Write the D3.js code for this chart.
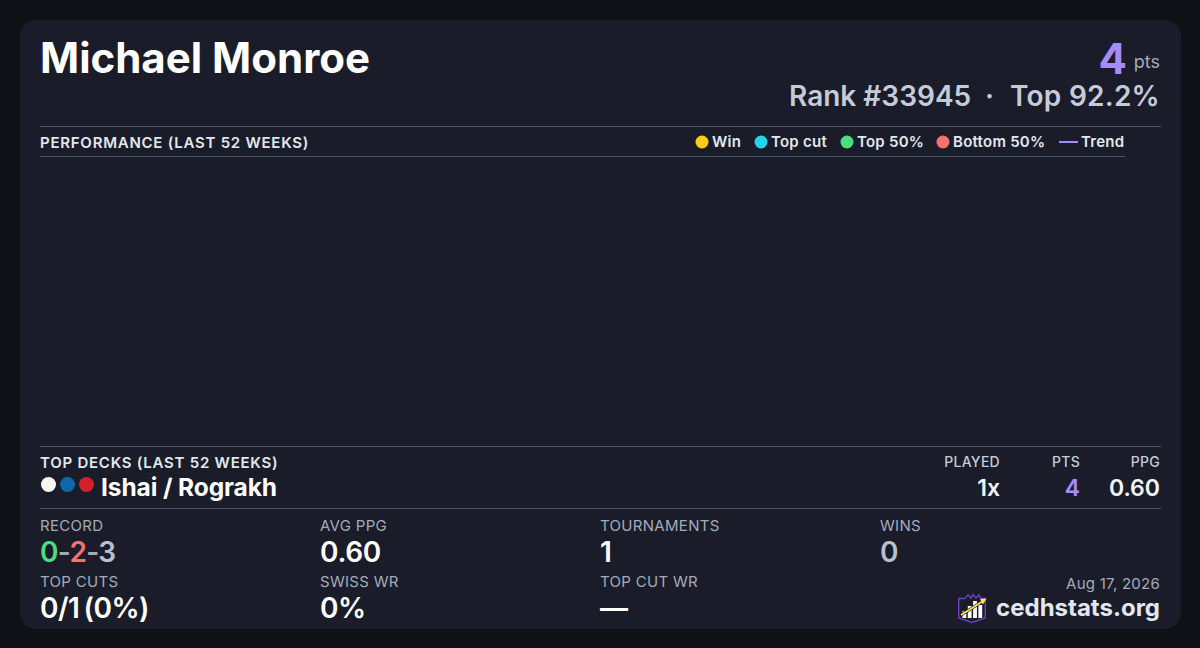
<!DOCTYPE html>
<html><head><meta charset="utf-8">
<script src="https://cdn.jsdelivr.net/npm/d3@7"></script>
<style>html,body{margin:0;padding:0;background:#0f1117;overflow:hidden}svg{display:block}text{font-family:Inter,sans-serif}</style>
</head><body><div id="c"></div>
<script>
const playerName = "Michael Monroe";
const points = "4";
const rankText = "Rank #33945";
const rankDot = "·";
const topText = "Top 92.2%";
const legendLabels = ["Win","Top cut","Top 50%","Bottom 50%"];
const legendColors = ["#facc15","#22d3ee","#4ade80","#f87171"];
const legendX = [702,761,847,943];
const performancePoints = [];
const deckName = "Ishai / Rograkh";
const deckPips = ["#f8f6ee","#0e68ab","#d3202a"];
const deckHeaders = ["PLAYED","PTS","PPG"];
const deckValues = ["1x","4","0.60"];
const deckHeaderX = [1000,1080,1160];
const statRow1 = [["RECORD",null],["AVG PPG","0.60"],["TOURNAMENTS","1"],["WINS","0"]];
const statRow2 = [["TOP CUTS","0/1 (0%)"],["SWISS WR","0%"],["TOP CUT WR","—"]];
const statX = [40,320,600,880];
const recordParts = [["0","#4ade80"],["-","#a3abbb"],["2","#f87171"],["-","#a3abbb"],["3","#b8c0ce"]];
const logoBars = [7,12,17,13];

const W=1200,H=648;
const svg=d3.select("#c").append("svg").attr("width",W).attr("height",H);
svg.append("rect").attr("width",W).attr("height",H).attr("fill","#0f1117");
svg.append("rect").attr("x",20).attr("y",20).attr("width",1161).attr("height",609).attr("rx",16).attr("fill","#1a1d29");
const T=(x,y,s,size,weight,fill,anchor,ls)=>svg.append("text").attr("x",x).attr("y",y).text(s)
  .attr("font-size",size).attr("font-weight",weight).attr("fill",fill).attr("text-anchor",anchor||"start")
  .attr("letter-spacing",ls||0);
const L=(x1,x2,y)=>svg.append("line").attr("x1",x1).attr("x2",x2).attr("y1",y).attr("y2",y).attr("stroke","#475569").attr("stroke-width",1);

T(40,73,playerName,42,700,"#ffffff");
T(1127,74,points,42,700,"#a78bfa","end");
T(1160,68,"pts",18,400,"#a3abbb","end");
T(789,106,rankText,28,600,"#c5cbd9");
T(989.5,106,rankDot,28,600,"#c5cbd9","middle");
T(1160,106,topText,28,600,"#c5cbd9","end",0.25);

L(40,1161,126.5); L(40,1125,156.5);
T(40,147.5,"PERFORMANCE (LAST 52 WEEKS)",15,600,"#e2e8f0","start",0.75);
legendLabels.forEach((d,i)=>{
  svg.append("circle").attr("cx",legendX[i]).attr("cy",142).attr("r",6.5).attr("fill",legendColors[i]);
  T(legendX[i]+10,147,d,15,600,"#e2e8f0","start",0.25);
});
svg.append("line").attr("x1",1059).attr("x2",1078).attr("y1",142).attr("y2",142).attr("stroke","#a78bfa").attr("stroke-width",2);
T(1081,147,"Trend",15,600,"#e2e8f0","start",0.25);

const xScale=d3.scaleLinear().domain([0,51]).range([40,1125]);
const yScale=d3.scaleLinear().domain([0,1]).range([440,160]);
svg.append("g").selectAll("circle").data(performancePoints).join("circle")
  .attr("cx",d=>xScale(d.w)).attr("cy",d=>yScale(d.v)).attr("r",5);

L(40,1161,446.5); L(40,1161,508.5);
T(40,467.5,"TOP DECKS (LAST 52 WEEKS)",15,600,"#e2e8f0","start",0.75);
deckPips.forEach((c,i)=>svg.append("circle").attr("cx",48.5+i*19).attr("cy",484.5).attr("r",7.5).attr("fill",c));
T(101,496,deckName,24.5,700,"#ffffff","start",-0.1);
deckHeaders.forEach((d,i)=>{
  T(deckHeaderX[i],467,d,14,500,"#c5cbd9","end",0.28);
  T(deckHeaderX[i],496,deckValues[i],23,600,i==1?"#a78bfa":"#f1f5f9","end");
});

statRow1.forEach((d,i)=>{
  T(statX[i],531,d[0],15,400,"#a3abbb","start",0.3);
  if(d[1]) T(statX[i],562,d[1],28,600,i==3?"#b8c0ce":"#ffffff","start",-0.3);
});
const rec=T(40,562,"",28,600,"#fff","start",-0.7);
rec.selectAll("tspan").data(recordParts).join("tspan").text(d=>d[0]).attr("fill",d=>d[1]);
statRow2.forEach((d,i)=>{
  T(statX[i],587,d[0],15,400,"#a3abbb","start",0.3);
  T(statX[i],618,d[1],28,600,"#ffffff","start",-0.5).attr("word-spacing",-2.5);
});
T(1160,589,"Aug 17, 2026",15,400,"#a3abbb","end",0.25);
T(1160,616,"cedhstats.org",24,700,"#e2e8f0","end");

// logo
const g=svg.append("g").attr("transform","translate(958,594)");
g.append("path").attr("d","M0.7 4.5 L7 4.5 L10 1 L13 4 L15 0.5 L18 4 L21 1 L23 4.5 L27.3 4.5 L27.3 24 L14 28.5 L0.7 24 Z")
  .attr("fill","#1a1d29").attr("stroke","#6d3fc4").attr("stroke-width",1.4);
logoBars.forEach((h,i)=>g.append("rect").attr("x",4.5+i*5.3).attr("y",24-h).attr("width",3.8).attr("height",h).attr("fill","#ffffff"));
g.append("line").attr("x1",3).attr("y1",21).attr("x2",26).attr("y2",6.5).attr("stroke","#1a1d29").attr("stroke-width",3);
g.append("line").attr("x1",3).attr("y1",21).attr("x2",26).attr("y2",6.5).attr("stroke","#fde047").attr("stroke-width",1.8);
g.append("path").attr("d","M28.5 4.5 L22 5 L25 10.5 Z").attr("fill","#fde047");
</script></body></html>
